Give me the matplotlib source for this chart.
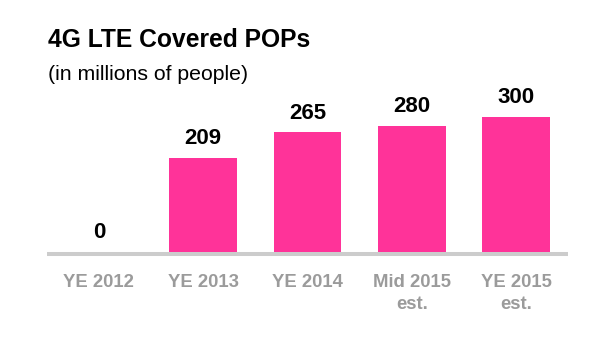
import matplotlib
matplotlib.use('Agg')
import matplotlib.pyplot as plt

# values in millions of people
periods = ['YE 2012', 'YE 2013', 'YE 2014', 'Mid 2015\nest.', 'YE 2015\nest.']
pops = [0, 209, 265, 280, 300]

C_PINK = '#FF3399'
C_AXIS = '#CCCCCC'
C_TICK = '#9B9B9B'
SANS = ['Liberation Sans', 'DejaVu Sans']

W, H = 592, 338
fig = plt.figure(figsize=(W / 100, H / 100), dpi=100)

# axes placed in pixel terms: baseline 86px from bottom, 0.451 px per million
ax = fig.add_axes([46.7 / W, 86 / H, 521.6 / W, 400 * 0.451 / H])
ax.set_xlim(-0.5, 4.5)
ax.set_ylim(0, 400)

x = range(len(pops))
ax.bar(x, pops, width=0.65, color=C_PINK, zorder=3)

# thick grey baseline sitting just under the bars
ax.axhline(-4.4, color=C_AXIS, lw=2.9, solid_capstyle='butt', clip_on=False, zorder=1)

for i, v in zip(x, pops):
    ax.annotate(f'{v}', xy=(i, v), xytext=(0, 10), textcoords='offset points',
                ha='center', va='baseline', fontsize=16, fontweight='bold',
                color='black', family=SANS)

ax.set_xticks(list(x))
ax.set_xticklabels(periods, fontsize=13.3, fontweight='bold', color=C_TICK,
                   family=SANS, linespacing=1.4)
ax.tick_params(axis='x', length=0, pad=15.5)
ax.set_yticks([])
for s in ax.spines.values():
    s.set_visible(False)

fig.text(48.5 / W, 1 - 46.7 / H, '4G LTE Covered POPs', ha='left', va='baseline',
         fontsize=17.7, fontweight='bold', color='black', family=SANS)
fig.text(48 / W, 1 - 80.5 / H, '(in millions of people)', ha='left', va='baseline',
         fontsize=15.3, color='black', family=SANS)

fig.savefig('out.png', dpi=100)
